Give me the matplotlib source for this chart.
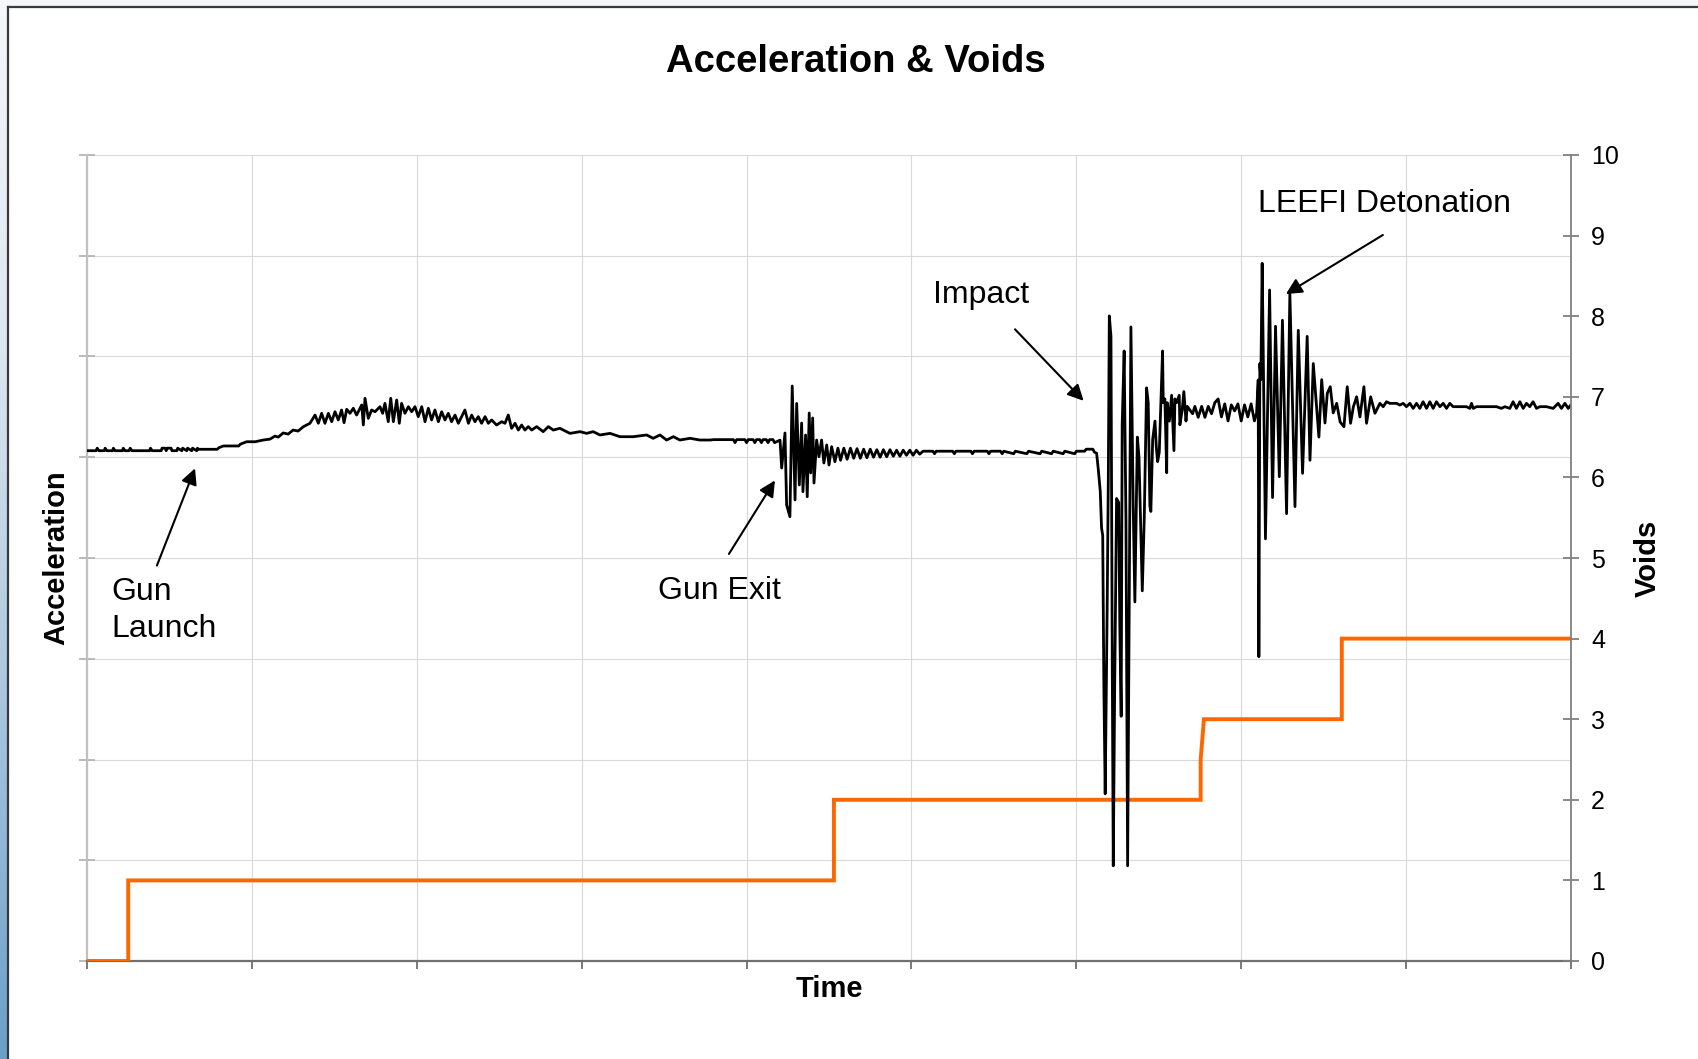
import numpy as np
import matplotlib
matplotlib.use("Agg")
import matplotlib.pyplot as plt
from matplotlib.colors import LinearSegmentedColormap
from matplotlib.lines import Line2D

plt.rcParams['font.family'] = ['Liberation Sans', 'DejaVu Sans']

# acceleration trace (time 0-90, accel 0-80, no units shown)
launch_t = [0, 0.55, 0.62, 0.72, 1.05, 1.1, 1.2, 1.55, 1.6, 1.7, 2.15, 2.2, 2.3, 2.55, 2.62, 2.72,
            3.8, 3.85, 3.95, 4.5, 4.55, 4.75, 4.8, 4.85, 5.1, 5.15, 5.45, 5.5, 5.75, 5.8, 6.05, 6.1,
            6.35, 6.4, 6.65, 6.7, 6.75, 7.9,
            8.0, 8.27, 9.2, 9.3, 9.68, 10.2, 10.69, 11.1, 11.4, 11.6, 11.9, 12.2, 12.5, 12.8, 13.12]
launch_a = [50.65, 50.65, 50.9, 50.65, 50.65, 50.9, 50.65, 50.65, 50.9, 50.65, 50.65, 50.9, 50.65, 50.65, 50.9, 50.65,
            50.65, 50.9, 50.65, 50.65, 50.9, 50.9, 50.65, 50.9, 50.9, 50.65, 50.65, 50.9, 50.65, 50.9, 50.65, 50.9,
            50.65, 50.9, 50.65, 50.9, 50.79, 50.79,
            50.95, 51.12, 51.12, 51.3, 51.54, 51.54, 51.71, 51.8, 52.1, 52.0, 52.41, 52.3, 52.7, 52.6, 53.03]

hump_t = [13.52, 13.83, 14.03, 14.23, 14.43, 14.64, 14.84, 15.04, 15.24, 15.44,
          15.59, 15.75, 15.95, 16.15, 16.35, 16.66, 16.76, 16.86, 17.06, 17.26,
          17.47, 17.77, 17.93, 18.07, 18.27, 18.42, 18.58, 18.78, 18.94, 19.08,
          19.28, 19.49, 19.69, 19.89, 20.09, 20.30, 20.50, 20.70, 20.90, 21.10,
          21.31, 21.51, 21.71, 21.91, 22.11, 22.32, 22.52, 22.72, 22.92, 23.13,
          23.33, 23.53, 23.73, 23.93, 24.14, 24.34, 24.54, 24.84, 25.15, 25.35,
          25.55, 25.75, 25.96, 26.16, 26.36, 26.56, 26.76, 26.97, 27.27, 27.67,
          27.98, 28.28, 28.68, 29.09, 29.29, 29.9, 30.3, 30.7, 31.11, 31.72,
          32.32, 33.13, 33.94, 34.34, 34.75, 35.15, 35.56, 35.96, 36.57, 37.17]
hump_a = [53.37, 54.19, 53.37, 54.36, 53.37, 54.36, 53.53, 54.52, 53.7, 54.69,
          53.43, 54.76, 54.36, 54.86, 54.19, 55.19, 53.2, 55.85, 53.86, 54.69,
          54.52, 55.02, 54.36, 55.35, 53.53, 55.85, 53.53, 55.68, 53.37, 55.35,
          54.36, 55.02, 54.52, 55.02, 54.03, 55.02, 53.53, 54.86, 53.7, 54.69,
          53.53, 54.52, 53.7, 54.36, 53.53, 54.19, 53.37, 54.03, 54.69, 53.37,
          54.19, 53.53, 54.03, 53.37, 54.03, 53.37, 53.7, 53.2, 53.53, 53.37,
          54.19, 52.87, 53.37, 52.70, 53.2, 52.70, 53.04, 52.70, 53.04, 52.54,
          53.04, 52.70, 52.87, 52.54, 52.37, 52.54, 52.37, 52.54, 52.21, 52.37,
          52.04, 52.04, 52.21, 51.88, 52.21, 51.71, 52.04, 51.71, 51.88, 51.71]

pre_t = [37.8, 38.0, 39.2, 39.3, 39.4, 39.9, 40.0, 40.1, 40.4, 40.5,
         40.6, 40.8, 40.9, 41.0, 41.2, 41.3, 41.4, 41.6, 41.7, 42.03]
pre_a = [51.71, 51.75, 51.75, 51.45, 51.75, 51.75, 51.45, 51.75, 51.75, 51.45,
         51.75, 51.75, 51.45, 51.75, 51.75, 51.45, 51.75, 51.75, 51.45, 51.7]

exit_t = [42.13, 42.33, 42.43, 42.63, 42.77, 42.94, 43.04, 43.2, 43.34, 43.42, 43.58, 43.68, 43.8,
          43.89, 44.01, 44.09, 44.25, 44.39, 44.55, 44.69, 44.86, 45.0, 45.16, 45.36, 45.54,
          45.7, 45.9, 46.1, 46.3, 46.5, 46.7, 46.9, 47.1, 47.3, 47.5, 47.7, 47.9, 48.1,
          48.3, 48.5, 48.7, 48.9, 49.1, 49.3, 49.5, 49.7, 49.9, 50.1, 50.3, 50.5]
exit_a = [48.93, 52.41, 45.26, 44.1, 57.07, 45.76, 55.34, 47.25, 53.4, 46.58, 52.21, 46.08, 54.39,
          48.44, 53.9, 47.44, 51.71, 50.05, 51.71, 49.43, 51.22, 49.23, 51.05, 49.56, 50.9,
          49.7, 50.9, 49.8, 50.9, 49.9, 50.85, 49.9, 50.8, 49.95, 50.8, 50.0, 50.75, 50.0,
          50.75, 50.05, 50.75, 50.1, 50.7, 50.1, 50.7, 50.2, 50.7, 50.2, 50.7, 50.3]

flat_t = [50.7, 51.3, 51.4, 51.5, 52.5, 52.6, 52.7, 53.6, 53.7, 53.8, 54.6, 54.7, 54.8, 55.4, 55.5, 55.6,
          56.2, 56.3, 57.0, 57.1, 57.8, 57.9, 58.5, 58.6, 59.2, 59.3, 59.9, 60.0, 60.5, 60.6, 61.0, 61.1, 61.23]
flat_a = [50.6, 50.6, 50.35, 50.6, 50.6, 50.35, 50.6, 50.6, 50.35, 50.6, 50.6, 50.35, 50.6, 50.6, 50.35, 50.6,
          50.35, 50.6, 50.35, 50.6, 50.35, 50.6, 50.35, 50.6, 50.35, 50.6, 50.35, 50.6, 50.6, 50.8, 50.8, 50.5, 50.4]

impact_t = [61.33, 61.45, 61.53, 61.6, 61.67, 61.75, 61.87, 61.94, 62.0, 62.1,
            62.18, 62.24, 62.32, 62.44, 62.57, 62.64, 62.72, 62.78, 62.9, 63.01,
            63.11, 63.21, 63.31, 63.45, 63.55, 63.7, 63.8, 64.0, 64.12, 64.26,
            64.36, 64.46, 64.52, 64.63, 64.77, 64.85, 64.93, 65.03, 65.23, 65.27,
            65.37, 65.48, 65.51, 65.64, 65.78, 65.92, 65.98, 66.08, 66.24, 66.28,
            66.42, 66.52, 66.65, 66.73, 66.89, 67.05, 67.19, 67.39, 67.6, 67.8,
            68.0, 68.2, 68.4, 68.6]
impact_a = [48.83, 46.63, 42.97, 42.23, 27.22, 16.59, 35.0, 48.1, 64.03, 62.01,
            29.05, 9.45, 26.12, 45.9, 45.5, 32.71, 24.29, 53.22, 60.55, 43.7,
            9.45, 35.64, 62.93, 45.0, 35.64, 52.0, 50.0, 36.74, 44.0, 56.89,
            55.42, 45.16, 44.62, 51.76, 53.59, 51.0, 49.56, 50.5, 60.55, 55.42,
            55.79, 48.46, 55.42, 53.59, 56.15, 50.66, 55.79, 55.42, 56.15, 53.22,
            54.69, 56.52, 53.59, 55.05, 54.69, 54.32, 55.05, 53.96, 55.05, 53.96,
            55.05, 54.32, 55.42, 55.79]

between_t = [68.8, 69.0, 69.2, 69.4, 69.6, 69.8, 70.0, 70.2, 70.4, 70.6, 70.8]
between_a = [54.0, 55.3, 53.6, 55.2, 54.6, 55.3, 53.6, 55.2, 54.0, 55.3, 53.6]

leefi_t = [70.93, 70.99, 71.03, 71.07, 71.13, 71.19, 71.27, 71.47, 71.72, 71.9,
           72.08, 72.31, 72.5, 72.75, 72.95, 73.26, 73.46, 73.72, 74.0, 74.17,
           74.37, 74.71, 74.88, 75.08, 75.22, 75.4, 75.58, 75.79, 76.0, 76.23,
           76.43, 76.63, 76.8, 77.0, 77.2, 77.44, 77.6, 77.85, 78.11, 78.41]
leefi_a = [54.36, 56.35, 57.67, 30.2, 59.3, 57.7, 69.25, 41.9, 66.6, 46.0,
           63.0, 48.07, 63.6, 44.4, 66.3, 45.1, 62.6, 48.4, 62.0, 49.7,
           59.3, 52.0, 57.7, 53.4, 56.35, 57.0, 54.4, 55.35, 53.5, 53.03,
           57.0, 53.37, 55.0, 56.0, 54.0, 57.0, 53.37, 56.0, 54.36, 55.35]

tail_t = [78.61, 78.81, 79.01, 79.42, 79.62, 79.82, 80.02, 80.23, 80.43, 80.63,
          80.83, 81.03, 81.24, 81.44, 81.64, 81.84, 82.05, 82.25, 82.45, 82.65,
          82.85, 83.26, 83.66, 83.86, 83.97, 84.07, 84.27, 84.47, 84.77, 85.08,
          85.48, 85.78, 85.99, 86.29, 86.49, 86.69, 86.9, 87.1, 87.3, 87.5,
          87.7, 87.91, 88.11, 88.51, 88.92, 89.22, 89.42, 89.63, 89.83, 89.99]
tail_a = [55.02, 55.51, 55.35, 55.35, 55.18, 55.35, 55.02, 55.35, 54.85, 55.35,
          54.85, 55.51, 54.85, 55.51, 54.85, 55.51, 55.02, 55.35, 54.85, 55.35,
          55.02, 55.02, 55.02, 54.85, 55.35, 54.85, 55.02, 55.02, 55.02, 55.02,
          55.02, 54.85, 55.02, 54.85, 55.51, 54.85, 55.51, 54.85, 55.35, 55.02,
          55.51, 54.85, 55.02, 55.02, 54.85, 55.35, 54.85, 55.35, 54.85, 55.18]

# voids count (right axis)
voids_t = [0, 2.5, 2.5, 45.3, 45.3, 67.54, 67.54, 67.74, 76.1, 76.1, 90]
voids_n = [0, 0, 1, 1, 2, 2, 2.5, 3, 3, 4, 4]

accel_t = np.concatenate([launch_t, hump_t, pre_t, exit_t, flat_t, impact_t, between_t, leefi_t, tail_t])
accel_a = np.concatenate([launch_a, hump_a, pre_a, exit_a, flat_a, impact_a, between_a, leefi_a, tail_a])

W, H = 1699, 1059
fig = plt.figure(figsize=(W / 100, H / 100), dpi=100)
fig.patch.set_facecolor('white')

# window frame: light strip on top, blue gradient on the left, dark border
top = fig.add_axes([0, 1 - 7 / H, 1, 7 / H])
top.axis('off')
top.add_patch(plt.Rectangle((0, 0), 1, 1, color='#f4f6f9', transform=top.transAxes))
side = fig.add_axes([0, 0, 8.5 / W, 1])
grad = LinearSegmentedColormap.from_list('strip', ['#f5f7fa', '#dbe6f0', '#a9c5de', '#6b9fc9'])
side.imshow(np.linspace(0, 1, 256).reshape(-1, 1), aspect='auto', cmap=grad, extent=[0, 1, 0, 1])
side.axis('off')
fig.add_artist(Line2D([8.5 / W, 8.5 / W], [0, 1 - 7 / H], color='#3a3a3a', lw=1.6, transform=fig.transFigure))
fig.add_artist(Line2D([8.5 / W, 1], [1 - 7 / H, 1 - 7 / H], color='#3a3a3a', lw=1.6, transform=fig.transFigure))

ax = fig.add_axes([87 / W, 1 - 961 / H, (1571 - 87) / W, (961 - 155) / H])
ax.set_xlim(0, 90)
ax.set_ylim(0, 80)
ax.set_xticks(range(0, 91, 10))
ax.set_yticks(range(0, 81, 10))
ax.grid(True, color='#d9d9d9', lw=0.8)
ax.tick_params(axis='y', direction='inout', length=11, width=1.3, color='#b4b4b4', labelleft=False)
ax.tick_params(axis='x', direction='out', length=5.5, width=1.3, color='#707070', labelbottom=False)
ax.spines['top'].set_visible(False)
ax.spines['right'].set_visible(False)
ax.spines['left'].set_color('#c0c0c0')
ax.spines['left'].set_linewidth(1.6)
ax.spines['bottom'].set_color('#707070')
ax.spines['bottom'].set_linewidth(1.6)

ax2 = ax.twinx()
ax2.set_ylim(0, 10)
ax2.set_yticks(range(0, 11))
ax2.tick_params(axis='y', direction='inout', length=11, width=1.3, color='#808080', labelsize=18, pad=9)
for s in ['top', 'left', 'bottom']:
    ax2.spines[s].set_visible(False)
ax2.spines['right'].set_color('#808080')
ax2.spines['right'].set_linewidth(1.3)

ax2.plot(voids_t, voids_n, color='#ff6600', lw=2.8, solid_joinstyle='miter')
# acceleration drawn on top of the orange line, but in the left-axis scale
ax2.plot(accel_t, accel_a, color='black', lw=2.0, transform=ax.transData)
ax2.set_ylim(0, 10)
ax.set_xlim(0, 90)

arrow = dict(arrowstyle='-|>', color='black', lw=1.5, mutation_scale=24, shrinkA=0, shrinkB=0)
ax.text(1.49, 34.8, 'Gun\nLaunch', fontsize=23, ha='left', va='center', linespacing=1.28)
ax.annotate('', xy=(6.55, 48.9), xytext=(4.24, 39.25), arrowprops=arrow)
ax.text(34.6, 36.7, 'Gun Exit', fontsize=23, ha='left', va='center')
ax.annotate('', xy=(41.72, 47.7), xytext=(38.93, 40.4), arrowprops=arrow)
ax.text(51.3, 66.1, 'Impact', fontsize=23, ha='left', va='center')
ax.annotate('', xy=(60.44, 55.6), xytext=(56.28, 62.7), arrowprops=arrow)
ax.text(71.0, 75.1, 'LEEFI Detonation', fontsize=23, ha='left', va='center')
ax.annotate('', xy=(72.71, 66.2), xytext=(78.59, 72.06), arrowprops=arrow)

fig.text(856 / W, 1 - 62 / H, 'Acceleration & Voids', fontsize=27.5, fontweight='bold', ha='center', va='center')
fig.text(56 / W, 1 - 558 / H, 'Acceleration', fontsize=21, fontweight='bold', rotation=90, ha='center', va='center')
fig.text(829 / W, 1 - 989 / H, 'Time', fontsize=21, fontweight='bold', ha='center', va='center')
fig.text(1648 / W, 1 - 558 / H, 'Voids', fontsize=21, fontweight='bold', rotation=90, ha='center', va='center')

fig.savefig('out.png', dpi=100)
